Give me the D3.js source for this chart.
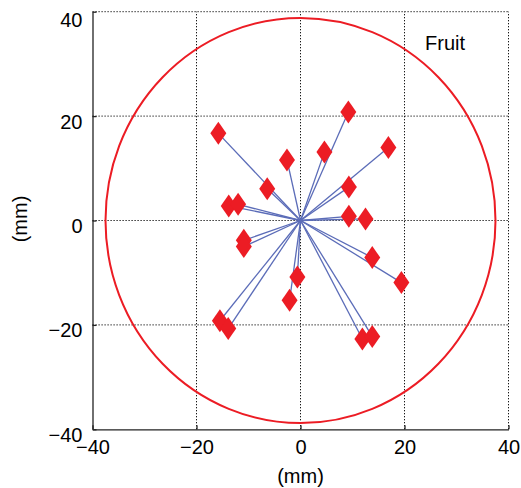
<!DOCTYPE html>
<html>
<head>
<meta charset="utf-8">
<script src="https://cdn.jsdelivr.net/npm/d3@7"></script>
<style>
  html, body { margin: 0; padding: 0; background: #fff; }
  svg { display: block; font-family: "Liberation Sans", Arial, sans-serif; }
</style>
</head>
<body>
<svg id="chart" width="521" height="488"></svg>
<script>
// Seed positions (mm) relative to the fruit centre
const seedX = [-15.8, -2.6, -6.4, -13.8, -12.0, 9.2, 4.6, 16.9, 9.3, 9.3, 12.5,
               -10.9, -10.9, -0.6, -2.1, -15.5, -13.9, 13.8, 19.4, 11.9, 13.8];
const seedY = [16.7, 11.6, 6.1, 2.8, 3.1, 20.8, 13.1, 14.0, 6.4, 0.8, 0.3,
               -3.8, -5.0, -10.8, -15.3, -19.2, -20.7, -7.1, -11.9, -22.7, -22.2];

// Fruit outline radii (mm)
const fruitRadiusX = [37.5];
const fruitRadiusY = [38.8];

const tickValues = [-40, -20, 0, 20, 40];
const axisLabel = "(mm)";
const legendLabel = "Fruit";

const svg = d3.select("#chart");
const x = d3.scaleLinear().domain([-40, 40]).range([92.5, 508.5]);
const y = d3.scaleLinear().domain([-40, 40]).range([429.3, 11.7]);

const red = "#ec1c24";
const blue = "#5b6cb8";

// dotted grid
const grid = svg.append("g").attr("stroke", "#000").attr("stroke-width", 1)
  .attr("stroke-dasharray", "1.2,1.8");
grid.selectAll("line.gx").data(tickValues.filter(d => d > -40)).join("line")
  .attr("class", "gx")
  .attr("x1", d => x(d)).attr("x2", d => x(d))
  .attr("y1", y(-40)).attr("y2", y(40));
grid.selectAll("line.gy").data(tickValues.filter(d => d > -40)).join("line")
  .attr("class", "gy")
  .attr("y1", d => y(d)).attr("y2", d => y(d))
  .attr("x1", x(-40)).attr("x2", x(40));

// axes
const xAxis = svg.append("g").attr("transform", `translate(0,${y(-40)})`)
  .call(d3.axisBottom(x).tickValues(tickValues).tickSizeInner(-4).tickSizeOuter(0));
const yAxis = svg.append("g").attr("transform", `translate(${x(-40)},0)`)
  .call(d3.axisLeft(y).tickValues(tickValues).tickSizeInner(-4).tickSizeOuter(0));

[xAxis, yAxis].forEach(a => {
  a.select(".domain").attr("stroke", "#222").attr("stroke-width", 1.3);
  a.selectAll(".tick line").attr("stroke", "#222").attr("stroke-width", 1.3);
  a.selectAll(".tick text").attr("fill", "#000").attr("font-size", 20)
    .attr("font-family", "Liberation Sans, Arial, sans-serif");
});
xAxis.selectAll(".tick text").attr("y", 25).attr("dy", 0);
yAxis.selectAll(".tick text").attr("x", -10).attr("dy", d => d === 40 ? 15 : 12);

// fruit outline
svg.selectAll("ellipse.fruit").data(fruitRadiusX).join("ellipse")
  .attr("class", "fruit")
  .attr("cx", x(0)).attr("cy", y(0))
  .attr("rx", d => x(d) - x(0))
  .attr("ry", (d, i) => y(0) - y(fruitRadiusY[i]))
  .attr("fill", "none").attr("stroke", red).attr("stroke-width", 2);

const seeds = seedX.map((v, i) => ({ x: v, y: seedY[i] }));

// rays from the centre to each seed
svg.append("g").selectAll("line").data(seeds).join("line")
  .attr("x1", x(0)).attr("y1", y(0))
  .attr("x2", d => x(d.x)).attr("y2", d => y(d.y))
  .attr("stroke", blue).attr("stroke-width", 1.3);

// diamond markers
const hw = 8, hh = 11.5;
svg.append("g").selectAll("path").data(seeds).join("path")
  .attr("d", d => {
    const cx = x(d.x), cy = y(d.y);
    return `M${cx},${cy - hh}L${cx + hw},${cy}L${cx},${cy + hh}L${cx - hw},${cy}Z`;
  })
  .attr("fill", red);

// labels
svg.append("text").attr("x", 425).attr("y", 50).attr("font-size", 20)
  .attr("fill", "#000").text(legendLabel);
svg.append("text").attr("x", x(0)).attr("y", 483).attr("text-anchor", "middle")
  .attr("font-size", 20).attr("fill", "#000").text(axisLabel);
svg.append("text").attr("transform", `translate(27,219) rotate(-90)`)
  .attr("text-anchor", "middle").attr("font-size", 20).attr("fill", "#000").text(axisLabel);
</script>
</body>
</html>
